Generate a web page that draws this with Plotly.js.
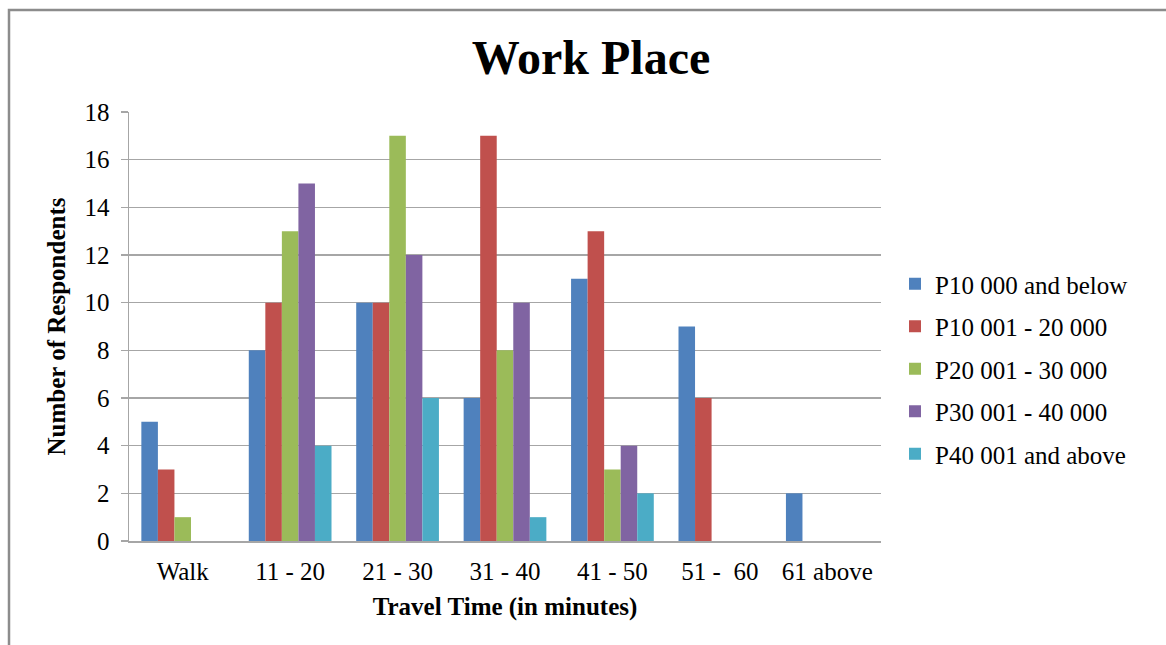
<!DOCTYPE html>
<html>
<head>
<meta charset="utf-8">
<script src="https://cdn.plot.ly/plotly-3.0.1.min.js"></script>
<style>
  html, body { margin: 0; padding: 0; background: #fff; }
  #chart { width: 1166px; height: 645px; }
</style>
</head>
<body>
<div id="chart"></div>
<script>
// Travel time to the work place, by monthly income bracket
const categories = ["Walk", "11 - 20", "21 - 30", "31 - 40", "41 - 50", "51 -  60", "61 above"];
const seriesNames = [
  "P10 000 and below",
  "P10 001 - 20 000",
  "P20 001 - 30 000",
  "P30 001 - 40 000",
  "P40 001 and above"
];
const income10k  = [5, 8, 10, 6, 11, 9, 2];
const income20k  = [3, 10, 10, 17, 13, 6, 0];
const income30k  = [1, 13, 17, 8, 3, 0, 0];
const income40k  = [0, 15, 12, 10, 4, 0, 0];
const income40kUp = [0, 4, 6, 1, 2, 0, 0];
const yTicks = [0, 2, 4, 6, 8, 10, 12, 14, 16, 18];

const seriesValues = [income10k, income20k, income30k, income40k, income40kUp];
const colors = ["#4F81BD", "#C0504D", "#9BBB59", "#8064A2", "#4BACC6"];

const W = 1166, H = 645;
const L = 129, R = 881, T = 112, B = 541;
const serif = "Liberation Serif, Times New Roman, serif";

const traces = seriesValues.map((vals, i) => ({
  type: "bar",
  name: seriesNames[i],
  x: categories,
  y: vals,
  legendgroup: "g" + i,
  marker: { color: colors[i], line: { width: 0 } },
  hoverinfo: "x+y+name"
}));

// outer chart frame, in paper coordinates
const pw = R - L, ph = B - T;
const px = v => (v - L) / pw;
const py = v => (B - v) / ph;

const layout = {
  width: W,
  height: H,
  margin: { l: L, r: W - R, t: T, b: H - B, pad: 0 },
  paper_bgcolor: "#ffffff",
  plot_bgcolor: "#ffffff",
  font: { family: serif, color: "#000000", size: 25 },
  title: {
    text: "<b>Work Place</b>",
    font: { family: serif, size: 48, color: "#000000" },
    xref: "container", yref: "container",
    x: 591 / W, y: 1 - 57 / H, xanchor: "center", yanchor: "middle"
  },
  barmode: "group",
  bargap: 0.23,
  bargroupgap: 0,
  showlegend: true,
  legend: {
    x: px(895), y: py(261), xanchor: "left", yanchor: "top",
    font: { family: serif, size: 25, color: "#000000" },
    tracegroupgap: 7,
    traceorder: "grouped",
    itemwidth: 30,
    bgcolor: "rgba(0,0,0,0)"
  },
  xaxis: {
    type: "category",
    showgrid: false,
    showline: true,
    linecolor: "#a6a6a6",
    linewidth: 1.5,
    ticks: "",
    ticklabelstandoff: 7,
    tickfont: { family: serif, size: 25, color: "#000000" },
    title: {
      text: "<b>Travel Time (in minutes)</b>",
      font: { family: serif, size: 25, color: "#000000" },
      standoff: 14
    },
    fixedrange: true
  },
  yaxis: {
    range: [0, 18],
    tickvals: yTicks,
    ticktext: yTicks.map(String),
    showgrid: true,
    gridcolor: "#a6a6a6",
    gridwidth: 1.5,
    zeroline: false,
    showline: true,
    linecolor: "#a6a6a6",
    linewidth: 1.5,
    ticks: "outside",
    ticklen: 7,
    tickcolor: "#a6a6a6",
    tickwidth: 1.5,
    ticklabelstandoff: 6,
    tickfont: { family: serif, size: 25, color: "#000000" },
    title: {
      text: "<b>Number of Respondents</b>",
      font: { family: serif, size: 25, color: "#000000" },
      standoff: 12
    },
    fixedrange: true
  },
  shapes: [
    {
      type: "rect", xref: "paper", yref: "paper",
      x0: px(9), x1: px(1175), y0: py(655), y1: py(10),
      line: { color: "#8c8c8c", width: 2.5 },
      fillcolor: "rgba(0,0,0,0)",
      layer: "above"
    }
  ]
};

Plotly.newPlot("chart", traces, layout, { displayModeBar: false, staticPlot: true });
</script>
</body>
</html>
